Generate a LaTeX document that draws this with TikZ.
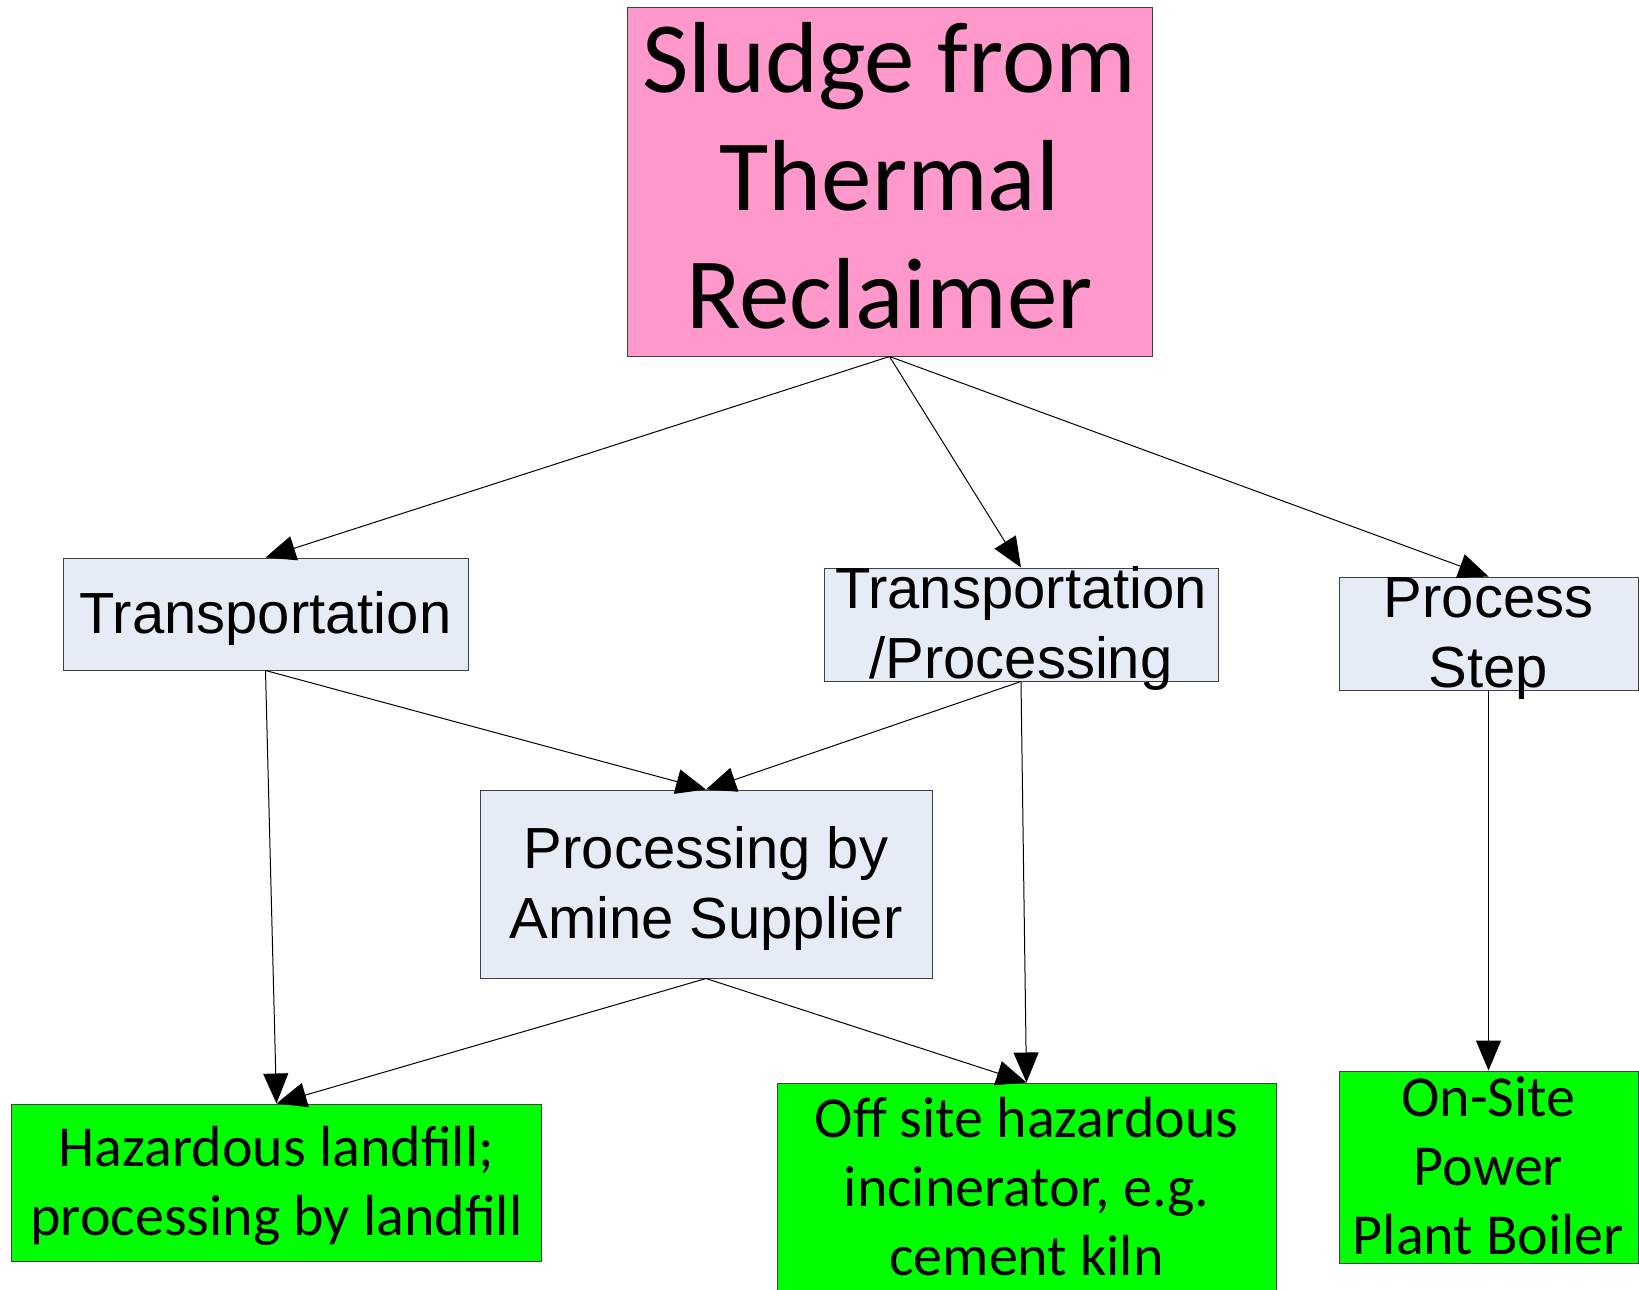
\documentclass[tikz,border=0pt]{standalone}
\usepackage{fontspec}
\setmainfont{Liberation Sans}
\newfontfamily\calfont{Carlito}
\usetikzlibrary{arrows.meta}
\definecolor{sludgepink}{HTML}{FF99CC}
\definecolor{steplight}{HTML}{E6ECF6}
\definecolor{endgreen}{HTML}{00FF00}
\newcommand{\boxlines}[1]{\raisebox{-2.5pt}[0pt][0pt]{\vbox to 0pt{\vss\hbox{\begin{tabular}{@{}c@{}}#1\end{tabular}}\vss}}}

\begin{document}
\begin{tikzpicture}[x=0.5pt,y=-0.5pt,
    box/.style={draw=black!75,line width=0.5pt,inner sep=0pt,rectangle},
    stepbox/.style={box,fill=steplight,font=\fontsize{29}{35}\selectfont},
    endbox/.style={box,fill=endgreen,font=\calfont\fontsize{29}{34.5}\selectfont},
    flow/.style={line width=0.5pt,-{Triangle[length=15pt,width=12.5pt]}}]
    \useasboundingbox (0,0) rectangle (1639,1290);
    \node [box,fill=sludgepink,font=\calfont\fontsize{50.5}{59}\selectfont,minimum width=262.5pt,minimum height=174.5pt]
        (sludge) at (889.5,181.5) {\boxlines{Sludge from\\Thermal\\Reclaimer}};
    \node [stepbox,minimum width=202.5pt,minimum height=56pt] (trans) at (265.5,614) {\boxlines{Transportation}};
    \node [stepbox,minimum width=197pt,minimum height=56.5pt] (transproc) at (1021,624.5) {\boxlines{Transportation\\/Processing}};
    \node [stepbox,minimum width=149.5pt,minimum height=56.5pt] (step) at (1488.5,633.5) {\boxlines{Process\\Step}};
    \node [stepbox,minimum width=226pt,minimum height=94pt] (amine) at (706,884) {\boxlines{Processing by\\Amine Supplier}};
    \node [endbox,minimum width=265pt,minimum height=78.5pt] (landfill) at (276.5,1182.5) {\boxlines{Hazardous landfill;\\processing by landfill}};
    \node [endbox,minimum width=249.5pt,minimum height=105pt] (offsite) at (1026.5,1188) {\boxlines{Off site hazardous\\incinerator, e.g.\\cement kiln}};
    \node [endbox,minimum width=149.5pt,minimum height=96pt] (onsite) at (1488.5,1167) {\boxlines{On-Site\\Power\\Plant Boiler}};
    \foreach \a/\b in {sludge/trans,sludge/transproc,sludge/step,trans/landfill,trans/amine,
        transproc/amine,transproc/offsite,amine/landfill,amine/offsite,step/onsite}
        \draw [flow] (\a.south) -- (\b.north);
\end{tikzpicture}
\end{document}
